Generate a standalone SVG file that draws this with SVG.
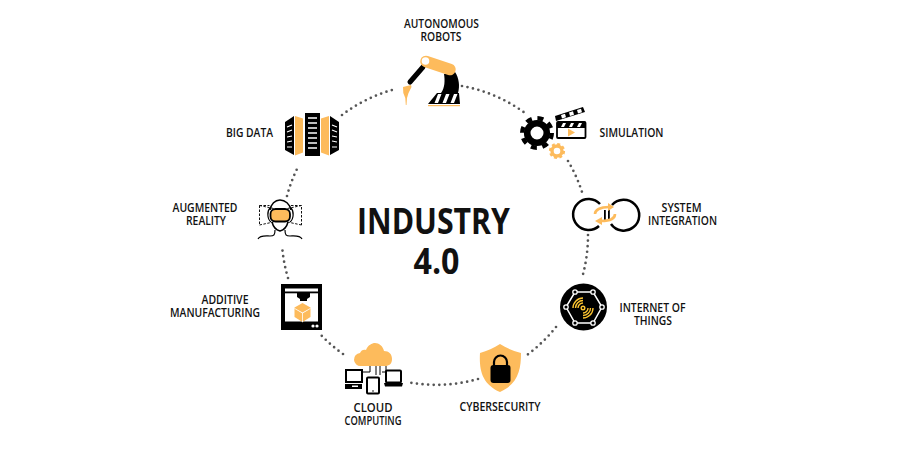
<svg xmlns="http://www.w3.org/2000/svg" width="900" height="450" viewBox="0 0 900 450">
<style>
text{font-family:"Open Sans","Liberation Sans",sans-serif;font-weight:600;font-size:12px;fill:#111;text-anchor:middle}
.title{font-size:36px;font-weight:700;fill:#111}
.dots{fill:none;stroke:#555;stroke-width:2.7;stroke-linecap:round;stroke-dasharray:0 5.6}
.k{fill:#000}.o{fill:#FDBB5C}.w{fill:#fff}
.ks{fill:none;stroke:#000;stroke-width:2}
.os{fill:none;stroke:#FDBB5C;stroke-width:2.6}
.ws{fill:none;stroke:#fff;stroke-width:1.5}
</style>
<rect width="900" height="450" fill="#fff"/>
<g id="connectors">
<path class="dots" d="M462 86A152 152 0 0 1 525 113"/>
<path class="dots" d="M568 161A152 152 0 0 1 582 192"/>
<path class="dots" d="M588 235A155 155 0 0 1 582 278"/>
<path class="dots" d="M556 327A155 155 0 0 1 527 355"/>
<path class="dots" d="M478 379A152 152 0 0 1 407 382"/>
<path class="dots" d="M343 354A152 152 0 0 1 321 335"/>
<path class="dots" d="M288 278A152 152 0 0 1 282 245"/>
<path class="dots" d="M287 196A152 152 0 0 1 299 165"/>
<path class="dots" d="M342 115A152 152 0 0 1 392 90"/>
</g>
<g id="title">
<text class="title" x="433.500" y="234" textLength="153" lengthAdjust="spacingAndGlyphs">INDUSTRY</text>
<text class="title" x="436.500" y="274" textLength="46" lengthAdjust="spacingAndGlyphs">4.0</text>
</g>
<g id="autonomous-robots">
<text x="441.500" y="28" textLength="75" lengthAdjust="spacingAndGlyphs">AUTONOMOUS</text>
<text x="441" y="41" textLength="41" lengthAdjust="spacingAndGlyphs">ROBOTS</text>
<path d="M423 67L410 82" stroke="#000" stroke-width="5" stroke-linecap="round"/>
<path class="o" d="M403 87l8-2 .5 2-3 6-1.500 5-.5 7-.7 0-.5-7-2-5z"/>
<path class="k" d="M444 74L455 72C459 78 460 86 458 93H441C445 88 445 80 444 74z"/>
<path class="k" d="M437 93h22l1 11h-32z"/>
<path class="w" d="M438 94h3.500l-3.500 9h-3.500zM446 94h3.500l-3.500 9h-3.500zM454 94h3.500l-3.500 9h-3.500z"/>
<rect x="428" y="105" width="32" height="1.200" class="o"/>
<path d="M426 61.500L450 69.500" stroke="#FDBB5C" stroke-width="11.500" stroke-linecap="round"/>
<circle class="w" cx="425.500" cy="61" r="3.800"/>
</g>
<g id="simulation">
<text x="631.500" y="137" textLength="64" lengthAdjust="spacingAndGlyphs">SIMULATION</text>
<circle cx="537" cy="133" r="9.800" fill="none" stroke="#000" stroke-width="6.600"/>
<circle cx="537" cy="133" r="14.800" fill="none" stroke="#000" stroke-width="4.400" stroke-dasharray="6 5.620"/>
<circle cx="557" cy="151" r="5" fill="none" stroke="#FDBB5C" stroke-width="3.400"/>
<circle cx="557" cy="151" r="7" fill="none" stroke="#FDBB5C" stroke-width="2.200" stroke-dasharray="3 2.500"/>
<path class="k" d="M555 116l28-9 2 5-29 9z"/>
<path class="w" d="M561 115l4-1.300 1 3.500-4 1.300zM569 112.500l4-1.300 1 3.500-4 1.300zM577 110l4-1.300 1 3.500-4 1.300z"/>
<rect x="557" y="122" width="28.500" height="6" class="k"/>
<path class="w" d="M563 123h3l-2 4h-3zM571 123h3l-2 4h-3zM579 123h3l-2 4h-3z"/>
<rect x="557" y="122" width="28.500" height="16" rx="1" fill="none" stroke="#000" stroke-width="1.800"/>
<path class="o" d="M568 128.500l7 4-7 4z"/>
</g>
<g id="system-integration">
<text x="681.500" y="212" textLength="40" lengthAdjust="spacingAndGlyphs">SYSTEM</text>
<text x="682.500" y="225" textLength="69" lengthAdjust="spacingAndGlyphs">INTEGRATION</text>
<path d="M600 204A15.500 15.500 0 1 0 599 226" fill="none" stroke="#000" stroke-width="2.500"/>
<path d="M612 205A15.500 15.500 0 1 1 611 224" fill="none" stroke="#000" stroke-width="2.500"/>
<rect x="604" y="210" width="1.800" height="10" class="k"/>
<rect x="608" y="210" width="1.800" height="10" class="k"/>
<path class="os" d="M595 214c0-4 5-7 14-7"/>
<path class="o" d="M608 203l6 4-6 4z"/>
<path class="os" d="M615 214c0 4-4 7-14 7"/>
<path class="o" d="M602 217l-7 4 7 4z"/>
</g>
<g id="internet-of-things">
<text x="652.500" y="312" textLength="66" lengthAdjust="spacingAndGlyphs">INTERNET OF</text>
<text x="653" y="325" textLength="38" lengthAdjust="spacingAndGlyphs">THINGS</text>
<circle cx="583.500" cy="307" r="23.500" class="k"/>
<path class="ws" d="M575 292H593L602 307L593 323H575L566 307Z"/>
<g fill="#000" stroke="#fff" stroke-width="1.300">
<circle cx="575" cy="292" r="2.200"/><circle cx="593" cy="292" r="2.200"/><circle cx="602" cy="307" r="2.200"/><circle cx="593" cy="323" r="2.200"/><circle cx="575" cy="323" r="2.200"/><circle cx="566" cy="307" r="2.200"/>
</g>
<g fill="none" stroke="#FCC431" stroke-width="1.400">
<circle cx="583" cy="308" r="1.800"/>
<path d="M578 308a5 5 0 0 1 5-5M588 308a5 5 0 0 1-5 5"/>
<path d="M575.500 308a7.500 7.500 0 0 1 7.500-7.500M590.500 308a7.500 7.500 0 0 1-7.500 7.500"/>
<path d="M573 308a10 10 0 0 1 10-10M593 308a10 10 0 0 1-10 10"/>
</g>
</g>
<g id="cybersecurity">
<text x="500" y="411" textLength="81" lengthAdjust="spacingAndGlyphs">CYBERSECURITY</text>
<path class="o" d="M500 344c6 4 13 7 21 9 0 17-3 31-21 39-18-8-21-22-20-39 7-2 14-5 20-9z"/>
<path d="M494 366v-4a6.500 6.500 0 0 1 13 0v4" fill="none" stroke="#000" stroke-width="2.200"/>
<rect x="490.500" y="365" width="20" height="18" rx="3" class="k"/>
</g>
<g id="cloud-computing">
<text x="373" y="412" textLength="39" lengthAdjust="spacingAndGlyphs">CLOUD</text>
<text x="373" y="425" textLength="57" lengthAdjust="spacingAndGlyphs">COMPUTING</text>
<path class="o" d="M361 366a6.500 6.500 0 0 1-1-13c1-3 4-4 6-3 2-5 6-7 9-7 4 0 8 3 9 8 5 0 8 3 8 8s-3 7-7 7z"/>
<path d="M370 366v6h-7M376 366v9M380 366v9M386 366v6h-4" fill="none" stroke="#000" stroke-width="1"/>
<rect x="346" y="370" width="16" height="12" class="ks"/>
<rect x="345" y="384" width="17" height="5" class="k"/>
<rect x="352" y="385.500" width="6" height="1.500" class="w"/>
<rect x="367" y="377.500" width="12" height="16" rx="1" class="ks"/>
<circle cx="373" cy="391" r=".8" class="k"/>
<rect x="386" y="370.500" width="15" height="12" rx="1" class="ks"/>
<path class="k" d="M384 383h19l-1 3.500h-17z"/>
</g>
<g id="additive-manufacturing">
<text x="225" y="304" textLength="47" lengthAdjust="spacingAndGlyphs">ADDITIVE</text>
<text x="215" y="317" textLength="90" lengthAdjust="spacingAndGlyphs">MANUFACTURING</text>
<rect x="281" y="284" width="41" height="46" class="k"/>
<rect x="285" y="288.500" width="33" height="33" class="w"/>
<rect x="285" y="291.500" width="33" height="1.800" class="k"/>
<path class="k" d="M297 293h13v4l-3 2v2h-7v-2l-3-2z"/>
<path class="o" d="M302.500 303l8 4.500v9.500l-8 5-8-5v-9.500z"/>
<path class="w" d="M294.500 308l8 4.500 8-4.500v.8l-7.600 4.400v9h-.8v-9l-7.600-4.400z"/>
<circle cx="313" cy="326" r="1.600" class="w"/>
<circle cx="317" cy="326" r="1.600" class="w"/>
</g>
<g id="augmented-reality">
<text x="205" y="212" textLength="65" lengthAdjust="spacingAndGlyphs">AUGMENTED</text>
<text x="206" y="225" textLength="40" lengthAdjust="spacingAndGlyphs">REALITY</text>
<path d="M259.500 205.500l14 3M301.500 205.500l-14 3M259.500 225l14-3M301.500 225l-14-3M259.500 205.500h10M291 205.500h10.500v19.500M259.500 205.500v19.500" fill="none" stroke="#111" stroke-width="1" stroke-dasharray="2.500 1.500"/>
<path d="M270 210c1-6 5-10 10-10s10 4 11 10M272 222c1 4 4 8 8 9 4-1 7-5 8-9" fill="none" stroke="#000" stroke-width="1.500"/>
<path d="M275 230c0 5-1 6-5 6-4 0-10-1-12 3M285 230c0 5 1 6 5 6 4 0 10-1 12 3M270 208c-3 3-3 11 1 14M291 208c3 3 3 11-1 14" fill="none" stroke="#000" stroke-width="1.200"/>
<rect x="270.500" y="209" width="19.500" height="12.500" rx="5" class="o" stroke="#000" stroke-width="1.800"/>
</g>
<g id="big-data">
<text x="249.500" y="137" textLength="47" lengthAdjust="spacingAndGlyphs">BIG DATA</text>
<path class="k" d="M285 122l9-6v39l-9-5zM339 122l-9-6v39l9-5z"/>
<path class="o" d="M295 116l8 2.500v34l-8 3zM329 116l-8 2.500v34l8 3z"/>
<rect x="305" y="113" width="15" height="43" class="k"/>
<path d="M308 118h9M308 123h9M308 128h9M308 133h9M308 138h9M308 143h9M308 148h9" stroke="#fff" stroke-width="1.500"/>
<path d="M287 127l5-2M287 132l5-2M287 137l5-1M287 142l5-1M287 147l5 0M332 125l5 2M332 130l5 2M332 136l5 1M332 141l5 1M332 147l5 0" stroke="#fff" stroke-width="1.200"/>
</g>
</svg>
